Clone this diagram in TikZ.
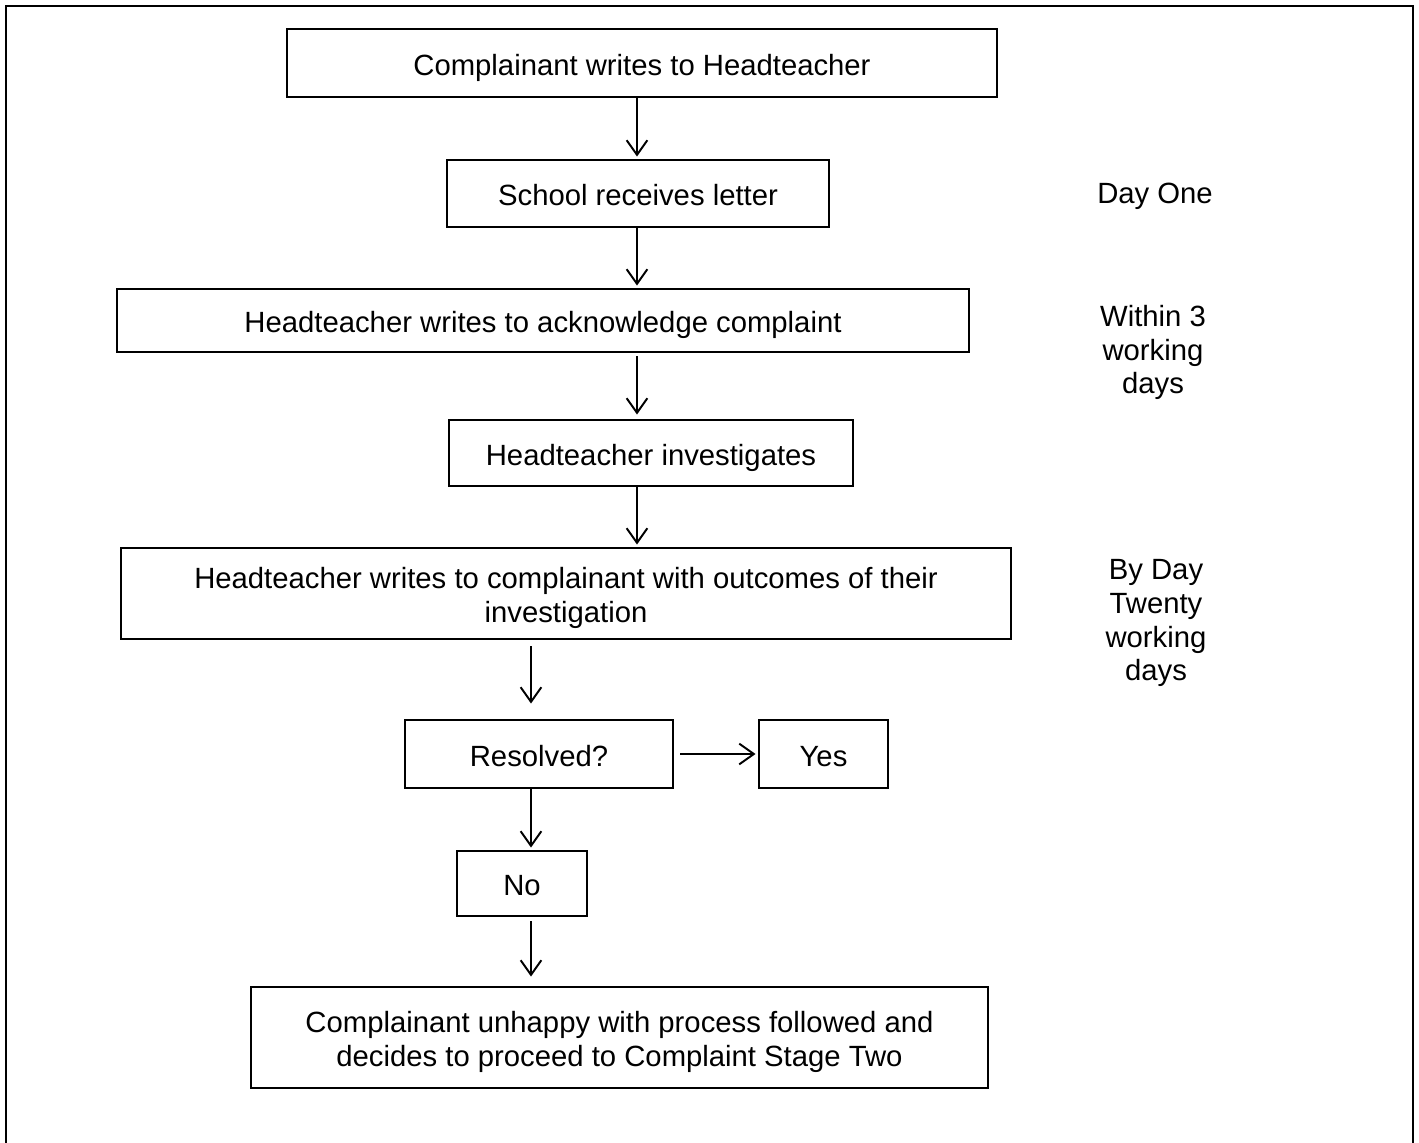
\documentclass[tikz,border=0pt]{standalone}
\usepackage{fontspec}
\setmainfont{Liberation Sans}
\usetikzlibrary{arrows.meta}
\tikzset{
  flow style/.style={
    x=0.41pt, y=-0.41pt,
    font=\fontsize{12}{13.8}\selectfont,
  },
  text lines/.style={
    text height=#1, text depth=0pt,
  },
  stage box/.style 2 args={
    draw, line width=1.2pt,
    inner sep=0pt, align=center,
    text lines=10pt,
    minimum width=#1*0.41pt,
    minimum height=#2*0.41pt,
  },
  time note/.style={
    align=center, inner sep=0pt,
    text lines=10pt,
  },
  flow arrow/.style={
    line width=0.8pt,
    -{Straight Barb[length=6pt, width=8.5pt]},
  },
  frame line/.style={
    line width=1.2pt,
  },
}

\begin{document}
\begin{tikzpicture}[flow style]
  \useasboundingbox (0,0) rectangle (1419,1143);
  % page frame, open at the foot
  \draw[frame line] (6,1143) -- (6,6) -- (1413,6) -- (1413,1143);

  \node[stage box={710}{68}] (n1) at (642,63) {Complainant writes to Headteacher};
  \node[stage box={382}{67}] (n2) at (638,193.5) {School receives letter};
  \node[stage box={852}{63}] (n3) at (543,320.5) {Headteacher writes to acknowledge complaint};
  \node[stage box={404}{66}] (n4) at (651,453) {Headteacher investigates};
  \node[stage box={890}{91}, text lines=23.8pt] (n5) at (566,593.5) {Headteacher writes to complainant with outcomes of their\\investigation};
  \node[stage box={268}{68}] (n6) at (539,754) {Resolved?};
  \node[stage box={129}{68}] (ny) at (823.5,754) {Yes};
  \node[stage box={130}{65}] (nn) at (522,883.5) {No};
  \node[stage box={737}{101}, text lines=23.8pt] (n9) at (619.5,1037.5) {Complainant unhappy with process followed and\\decides to proceed to Complaint Stage Two};

  % timings
  \node[time note] (t1) at (1155,191) {Day One};
  \node[time note, text lines=37.6pt] (t2) at (1153,348) {Within 3\\working\\days};
  \node[time note, text lines=51.4pt] (t3) at (1156,618) {By Day\\Twenty\\working\\days};

  % arrow lines
  \coordinate (spine) at (637,0);
  \coordinate (spine2) at (531,0);
  \draw[flow arrow] (n1.south -| spine) -- ([yshift=2*0.41pt]n2.north -| spine);
  \draw[flow arrow] (n2.south -| spine) -- ([yshift=2*0.41pt]n3.north -| spine);
  \draw[flow arrow] ([yshift=-3*0.41pt]n3.south -| spine) -- ([yshift=4*0.41pt]n4.north -| spine);
  \draw[flow arrow] (n4.south -| spine) -- ([yshift=2*0.41pt]n5.north -| spine);
  \draw[flow arrow] ([yshift=-6*0.41pt]n5.south -| spine2) -- ([yshift=15*0.41pt]n6.north -| spine2);
  \draw[flow arrow] ([xshift=6*0.41pt]n6.east) -- ([xshift=-2*0.41pt]ny.west);
  \draw[flow arrow] (n6.south -| spine2) -- ([yshift=2*0.41pt]nn.north -| spine2);
  \draw[flow arrow] ([yshift=-4*0.41pt]nn.south -| spine2) -- ([yshift=9*0.41pt]n9.north -| spine2);
\end{tikzpicture}
\end{document}
